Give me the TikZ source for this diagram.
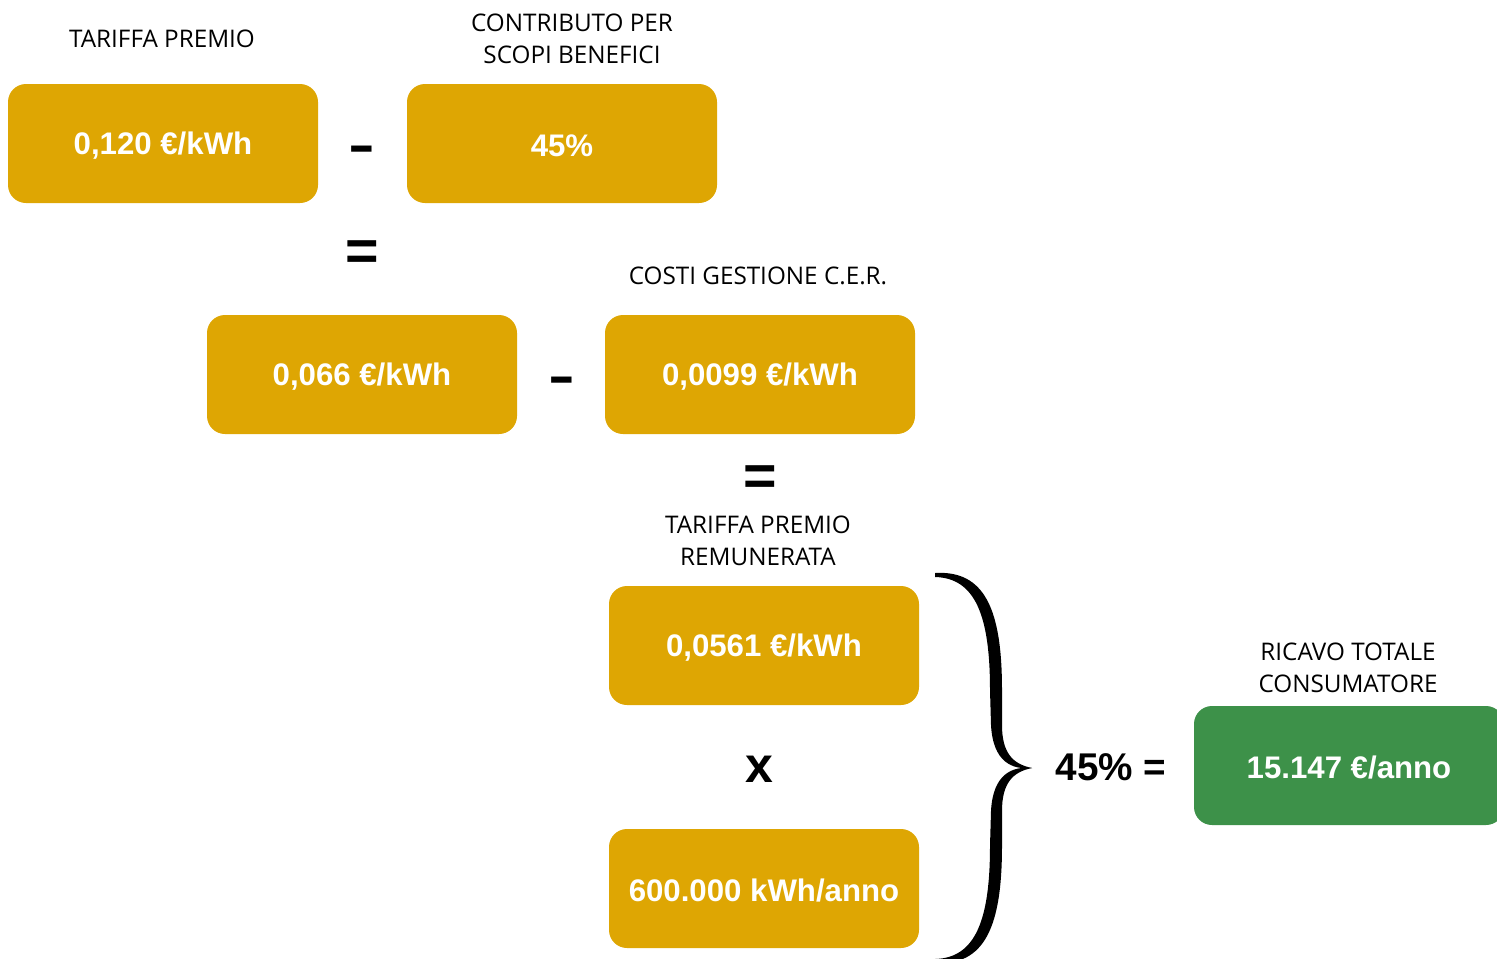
\documentclass[tikz,border=0pt]{standalone}
\usepackage{fontspec}
\setmainfont{Open Sans}
\newfontfamily\boxfont{Liberation Sans}
\definecolor{gold}{RGB}{222,166,3}
\definecolor{grn}{RGB}{61,145,73}
\tikzset{
  valbox/.style={fill=gold, rounded corners=13.5pt, minimum width=232.5pt, minimum height=89.25pt, inner sep=0pt, text=white, font=\boxfont\bfseries\fontsize{23.4}{28}\selectfont},
  greenbox/.style={valbox, fill=grn},
  caption/.style={font=\fontsize{18.2}{24}\selectfont, align=center, inner sep=0pt},
  opsym/.style={font=\boxfont\bfseries\fontsize{43}{50}\selectfont, inner sep=0pt},
  bigop/.style={font=\boxfont\bfseries\fontsize{29}{34}\selectfont, inner sep=0pt}
}
\newcommand{\boxtext}[1]{\raisebox{-1.6pt}[\height][\depth]{#1}}
\begin{document}
\begin{tikzpicture}[x=0.75pt,y=-0.75pt]
\useasboundingbox (0,0) rectangle (1497,958);
\begin{scope}
\clip (0,0) rectangle (1497,958);
% boxes
\node[valbox] (b1) at (163,143.5) {\boxtext{0,120 €/kWh}};
\node[valbox] (b2) at (562,143.5) {\boxtext{45\%}};
\node[valbox] (b3) at (362,374.5) {\boxtext{0,066 €/kWh}};
\node[valbox] (b4) at (760,374.5) {\boxtext{0,0099 €/kWh}};
\node[valbox] (b5) at (764,645.5) {\boxtext{0,0561 €/kWh}};
\node[valbox] (b6) at (764,888.5) {\boxtext{600.000 kWh/anno}};
\node[greenbox] (b7) at (1349,765.5) {\boxtext{15.147 €/anno}};
% captions
\node[caption] (c1) at (162,39) {TARIFFA PREMIO};
\node[caption] (c2) at (572,38.5) {CONTRIBUTO PER\\SCOPI BENEFICI};
\node[caption] (c3) at (758,276) {COSTI GESTIONE C.E.R.};
\node[caption] (c4) at (758,541) {TARIFFA PREMIO\\REMUNERATA};
\node[caption] (c5) at (1348,668) {RICAVO TOTALE\\CONSUMATORE};
% operators
\node[opsym] (m1) at (362,154) {\scalebox{1.4}[0.9]{-}};
\node[opsym] (e1) at (362,256) {=};
\node[opsym] (m2) at (562,385) {\scalebox{1.4}[0.9]{-}};
\node[opsym] (e2) at (760,481) {=};
\node[opsym, font=\boxfont\bfseries\fontsize{37.5}{44}\selectfont] (x1) at (759,769) {x};
\node[bigop] (p1) at (1111,767) {45\% =};
% brace
\fill (935,573) .. controls (985,570) and (1002,610) .. (1002,690)
  -- (1002,725) .. controls (1002,752) and (1012,764) .. (1032,768)
  .. controls (1012,770) and (993,762) .. (991,725)
  -- (990,690) .. controls (990,615) and (975,578) .. (935,577) -- cycle;
\fill (935,963) .. controls (985,966) and (1002,926) .. (1002,846)
  -- (1002,811) .. controls (1002,784) and (1012,772) .. (1032,768)
  .. controls (1012,766) and (993,774) .. (991,811)
  -- (990,846) .. controls (990,921) and (975,958) .. (935,959) -- cycle;
\end{scope}
\end{tikzpicture}
\end{document}
